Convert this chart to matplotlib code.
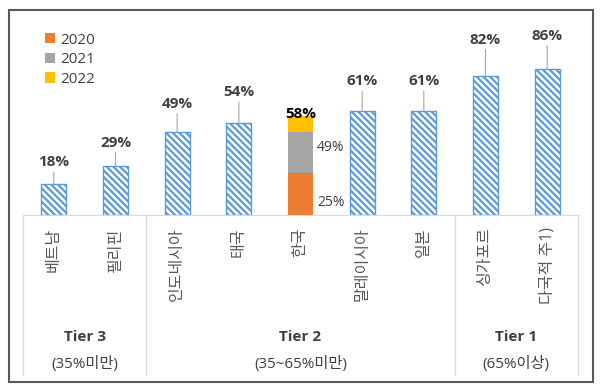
import matplotlib
matplotlib.use('Agg')
import matplotlib.pyplot as plt
from matplotlib.patches import Rectangle
from matplotlib.lines import Line2D
from matplotlib.transforms import blended_transform_factory

plt.rcParams['font.family'] = ['Open Sans', 'Noto Sans CJK KR', 'DejaVu Sans']
plt.rcParams['hatch.linewidth'] = 1.6

# data
countries = ['베트남', '필리핀', '인도네시아', '태국', '한국', '말레이시아', '일본', '싱가포르', '다국적 주1)']
values = [18, 29, 49, 54, 58, 61, 61, 82, 86]
korea_years = ['2020', '2021', '2022']
korea_values = [25, 49, 58]
tiers = ['Tier 3', 'Tier 2', 'Tier 1']
tier_ranges = ['(35%미만)', '(35~65%미만)', '(65%이상)']
tier_sizes = [2, 5, 2]

# style
label_off = [22, 23, 28, 31, 0, 30, 30, 36, 33]   # px above bar top
korea_idx = 4
blue = '#5B9BD5'
year_colors = ['#ED7D31', '#A5A5A5', '#FFC000']
txt = '#404040'
grid = '#D9D9D9'

fig = plt.figure(figsize=(6, 3.9), dpi=100)
ax = fig.add_axes([23/600, 175/390, 555/600, 187/390])

x = list(range(len(countries)))
for i, v in enumerate(values):
    if i == korea_idx:
        continue
    ax.bar(i, v, width=0.41, color='white', edgecolor=blue, hatch='\\' * 5, linewidth=1)
    ax.annotate(f'{v}%', xy=(i, v), xytext=(0, label_off[i]*0.72), textcoords='offset points',
                ha='center', va='center', fontsize=11, fontweight='bold', color=txt,
                arrowprops=dict(arrowstyle='-', color='#A6A6A6', lw=0.8, shrinkA=0, shrinkB=0))

# korea stacked
handles = []
bottom = 0
for yr, v, c in zip(korea_years, korea_values, year_colors):
    b = ax.bar(korea_idx, v - bottom, bottom=bottom, width=0.41, color=c, label=yr)
    handles.append(b)
    bottom = v
ax.annotate(f'{korea_values[2]}%', xy=(korea_idx, korea_values[2]), xytext=(0, 2), textcoords='offset points',
            ha='center', va='center', fontsize=11, fontweight='bold', color='black')
ax.annotate(f'{korea_values[1]}%', xy=(korea_idx, (korea_values[0] + korea_values[1]) / 2),
            xytext=(12, 3), textcoords='offset points', ha='left', va='center', fontsize=10, color=txt)
ax.annotate(f'{korea_values[0]}%', xy=(korea_idx, korea_values[0] / 2),
            xytext=(12, -6), textcoords='offset points', ha='left', va='center', fontsize=10, color=txt)

ax.set_xlim(-0.5, len(countries) - 0.5)
ax.set_ylim(0, 110)
ax.set_yticks([])
ax.set_xticks(x)
ax.set_xticklabels(countries, rotation=90, va='top', ha='center', fontsize=11.5, color='#595959')
ax.tick_params(axis='x', length=0, pad=9)
for s in ['top', 'left', 'right']:
    ax.spines[s].set_visible(False)
ax.spines['bottom'].set_color(grid)

leg = ax.legend(handles=handles, loc='upper left', bbox_to_anchor=(37/600, 1 - 25/390),
                bbox_transform=fig.transFigure, frameon=False, fontsize=11, handlelength=0.65,
                handleheight=0.65, handletextpad=0.4, labelspacing=0.3, borderpad=0)
for t in leg.get_texts():
    t.set_color(txt)

# group table below axis
tr = blended_transform_factory(ax.transData, fig.transFigure)
edges = [-0.5]
for n in tier_sizes:
    edges.append(edges[-1] + n)
for e in edges:
    fig.add_artist(Line2D([e, e], [175/390, 15/390], transform=tr, color=grid, lw=1))
for k, (t, r) in enumerate(zip(tiers, tier_ranges)):
    xc = (edges[k] + edges[k + 1]) / 2
    fig.text(xc, 53/390, t, transform=tr, ha='center', va='center', fontsize=11,
             fontweight='bold', color=txt)
    fig.text(xc, 26/390, r, transform=tr, ha='center', va='center', fontsize=11, color=txt)

fig.add_artist(Rectangle((9/600, 8/390), 584/600, 372/390, transform=fig.transFigure,
                         fill=False, edgecolor='#595959', lw=1.5))

fig.savefig('out.png', dpi=100)
